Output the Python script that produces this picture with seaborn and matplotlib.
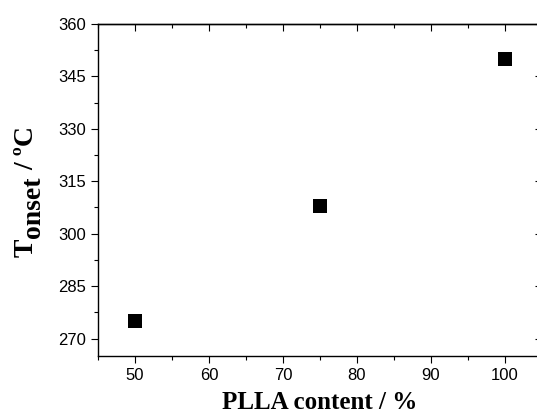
import matplotlib
matplotlib.use("Agg")
import matplotlib.pyplot as plt
import seaborn as sns
import pandas as pd
from matplotlib.ticker import MultipleLocator

# data
plla_content = [50, 75, 100]
t_onset = [275, 308, 350]

df = pd.DataFrame({"plla": plla_content, "tonset": t_onset})

sns.set_style("white")
plt.rcParams["font.family"] = ["Liberation Sans", "DejaVu Sans"]

fig = plt.figure(figsize=(5.37, 4.15), dpi=100)
ax = fig.add_axes([98 / 537, 1 - 356 / 415, (542 - 98) / 537, (356 - 24) / 415])

sns.scatterplot(data=df, x="plla", y="tonset", marker="s", s=95,
                color="black", edgecolor="black", linewidth=0, ax=ax)

ax.set_xlim(45, 105)
ax.set_ylim(265, 360)
ax.xaxis.set_major_locator(MultipleLocator(10))
ax.xaxis.set_minor_locator(MultipleLocator(5))
ax.yaxis.set_major_locator(MultipleLocator(15))
ax.yaxis.set_minor_locator(MultipleLocator(7.5))

for s in ax.spines.values():
    s.set_color("black")
    s.set_linewidth(1.0)

# outward ticks on left/bottom, inward mirrored ticks on top/right
ax.tick_params(which="both", direction="out", bottom=True, left=True,
               top=False, right=False, labelsize=12, colors="black",
               labelcolor="black", width=0.8)
ax.tick_params(which="major", length=5)
ax.tick_params(which="minor", length=3)
sec_x = ax.secondary_xaxis("top")
sec_x.xaxis.set_major_locator(MultipleLocator(10))
sec_x.xaxis.set_minor_locator(MultipleLocator(5))
sec_x.tick_params(which="both", direction="in", top=True, labeltop=False,
                  colors="black", width=0.8)
sec_x.tick_params(which="major", length=5)
sec_x.tick_params(which="minor", length=3)
sec_x.spines["top"].set_linewidth(1.0)
sec_y = ax.secondary_yaxis("right")
sec_y.yaxis.set_major_locator(MultipleLocator(15))
sec_y.yaxis.set_minor_locator(MultipleLocator(7.5))
sec_y.tick_params(which="both", direction="in", right=True, labelright=False,
                  colors="black", width=0.8)
sec_y.tick_params(which="major", length=5)
sec_y.tick_params(which="minor", length=3)

ax.set_xlabel("PLLA content / %", family="Liberation Serif", fontweight="bold",
              fontsize=18, color="black", labelpad=6)
ax.set_ylabel("")

# y label with a full-size subscript, Origin style
lab = dict(rotation=90, rotation_mode="anchor", ha="left", va="baseline",
           family="Liberation Serif", fontweight="bold", fontsize=20, color="black")
fig.text(33 / 537, 1 - 257 / 415, "T", **lab)
fig.text(40 / 537, 1 - 238 / 415, "onset", **lab)
fig.text(33 / 537, 1 - 170 / 415, "/ ºC", **lab)

fig.savefig("out.png", dpi=100)
